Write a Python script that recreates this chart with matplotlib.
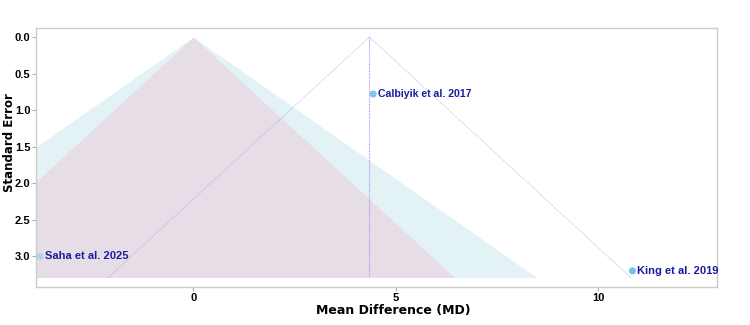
import numpy as np
import matplotlib
matplotlib.use("Agg")
import matplotlib.pyplot as plt

# study estimates
studies = ["Saha et al. 2025", "Calbiyik et al. 2017", "King et al. 2019"]
md = [-3.78, 4.44, 10.84]
se = [3.00, 0.78, 3.20]
label_size = [8, 7.6, 8]
point_colors = ["#b4d2ee", "#80c6ee", "#72c0f0"]

pooled = 4.35
se_max = 3.29

plt.rcParams["font.family"] = ["DejaVu Sans"]

fig = plt.figure(figsize=(7.5, 3.25), dpi=100)
ax = fig.add_axes([0.048, 0.117, 0.9076, 0.796])

se_line = np.array([0, se_max])

# contour regions around zero (99% then 95%)
ax.fill_betweenx(se_line, -2.576 * se_line, 2.576 * se_line, color="#e2f2f5", lw=0)
ax.fill_betweenx(se_line, -1.96 * se_line, 1.96 * se_line, color="#e6dde6", lw=0)

# funnel around pooled estimate
ax.plot(pooled - 1.96 * se_line, se_line, color="#aaa2e8", lw=0.5, ls=(0, (1, 1)))
ax.plot(pooled + 1.96 * se_line, se_line, color="#aaa2e8", lw=0.5, ls=(0, (1, 1)))
ax.plot([pooled, pooled], se_line, color="#b08ee8", lw=0.8, ls=(0, (1, 1)))

ax.scatter(md, se, s=26, c=point_colors, zorder=3, lw=0)
for name, x, y, fs in zip(studies, md, se, label_size):
    ax.text(x + 0.11, y, name, fontsize=fs, fontweight="bold", color="#1c1c9e",
            family=["Liberation Sans"], va="center", ha="left", zorder=4)

ax.set_xlim(-3.88, 12.92)
ax.set_ylim(3.42, -0.12)
ax.set_xticks([0, 5, 10])
ax.set_yticks([0, 0.5, 1.0, 1.5, 2.0, 2.5, 3.0])
ax.set_yticklabels(["0.0", "0.5", "1.0", "1.5", "2.0", "2.5", "3.0"])
ax.tick_params(length=3, width=0.8, color="#aaaaaa", labelsize=8, pad=1)
for lab in ax.get_xticklabels() + ax.get_yticklabels():
    lab.set_fontweight("bold")
    lab.set_family(["Liberation Sans"])
for sp in ax.spines.values():
    sp.set_color("#cccccc")
    sp.set_linewidth(1)

ax.set_xlabel("Mean Difference (MD)", fontsize=9, fontweight="bold")
ax.set_ylabel("Standard Error", fontsize=8.5, fontweight="bold")
ax.xaxis.set_label_coords(0.525, -0.065)
ax.yaxis.set_label_coords(-0.03, 0.56)

fig.savefig("out.png", dpi=100)
